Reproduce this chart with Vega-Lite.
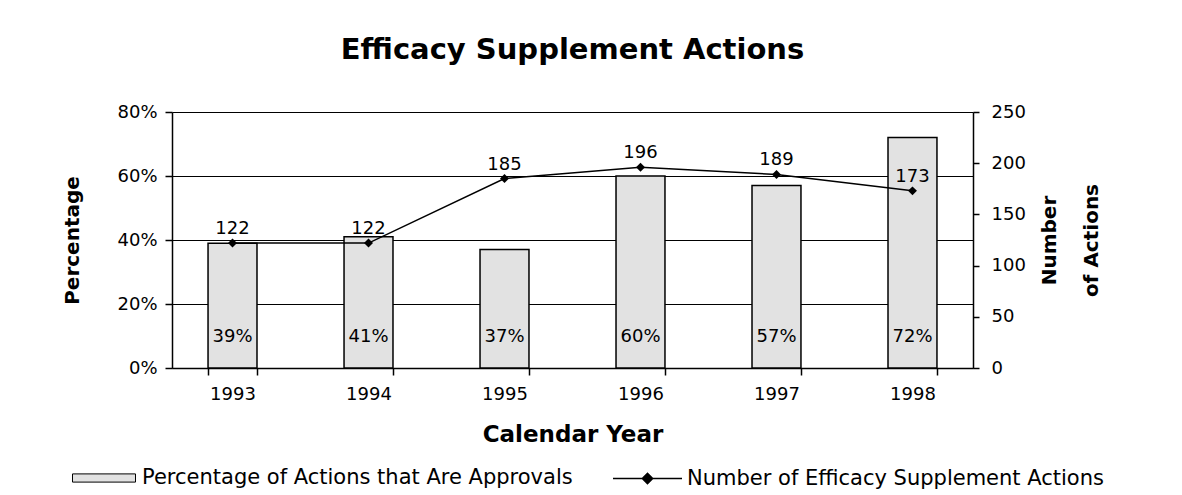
{
  "$schema": "https://vega.github.io/schema/vega-lite/v6.json",
  "width": 801,
  "height": 256,
  "autosize": {"type": "none"},
  "padding": {"left": 172, "top": 112, "right": 209, "bottom": 127},
  "background": "white",
  "config": {
    "view": {"stroke": null},
    "font": "DejaVu Sans",
    "axis": {
      "labelFont": "DejaVu Sans",
      "labelColor": "black",
      "titleFont": "DejaVu Sans",
      "titleColor": "black",
      "domainColor": "black",
      "tickColor": "black",
      "domainWidth": 1.5,
      "tickWidth": 1.5
    }
  },
  "title": {
    "text": "Efficacy Supplement Actions",
    "font": "DejaVu Sans",
    "fontSize": 29,
    "fontWeight": "bold",
    "color": "black",
    "anchor": "middle",
    "frame": "group",
    "offset": 38
  },
  "data": {
    "values": [
      {"year": "1993", "pct": 0.39, "count": 122},
      {"year": "1994", "pct": 0.41, "count": 122},
      {"year": "1995", "pct": 0.37, "count": 185},
      {"year": "1996", "pct": 0.60, "count": 196},
      {"year": "1997", "pct": 0.57, "count": 189},
      {"year": "1998", "pct": 0.72, "count": 173}
    ]
  },
  "layer": [
    {
      "layer": [
        {
          "mark": {"type": "bar", "stroke": "black", "strokeWidth": 1.5},
          "encoding": {
            "x": {
              "field": "year",
              "type": "nominal",
              "scale": {"paddingInner": 0.64, "paddingOuter": 0.265},
              "axis": {
                "title": "Calendar Year",
                "titleFontSize": 23,
                "titleFontWeight": "bold",
                "titlePadding": 20,
                "labelAngle": 0,
                "labelFontSize": 18,
                "labelPadding": 10,
                "tickBand": "extent",
                "tickSize": 7,
                "tickOffset": 0,
                "grid": false
              }
            },
            "y": {
              "field": "pct",
              "type": "quantitative",
              "scale": {"domain": [0, 0.8], "nice": false},
              "axis": {
                "orient": "left",
                "title": "Percentage",
                "titleFontSize": 20,
                "titleFontWeight": "bold",
                "titlePadding": 34,
                "format": ".0%",
                "values": [0, 0.2, 0.4, 0.6, 0.8],
                "labelFontSize": 18,
                "labelPadding": 8,
                "tickSize": 7,
                "grid": true,
                "gridColor": "black",
                "gridOpacity": 1,
                "gridWidth": 1.2
              }
            },
            "fill": {
              "datum": "Percentage of Actions that Are Approvals",
              "scale": {"range": ["#e2e2e2"]},
              "legend": {
                "orient": "none",
                "legendX": -100,
                "legendY": 334,
                "title": null,
                "symbolType": "M-1,-0.13H1V0.13H-1Z",
                "symbolSize": 3969,
                "symbolStrokeColor": "black",
                "symbolFillColor": "#e2e2e2",
                "symbolStrokeWidth": 1,
                "symbolOpacity": 1,
                "labelFont": "DejaVu Sans",
                "labelFontSize": 21,
                "labelColor": "black",
                "labelLimit": 700,
                "labelOffset": 6
              }
            }
          }
        },
        {
          "mark": {"type": "text", "fontSize": 18, "color": "black", "baseline": "middle"},
          "encoding": {
            "x": {"field": "year", "type": "nominal"},
            "y": {"datum": 0.097},
            "text": {"field": "pct", "type": "quantitative", "format": ".0%"}
          }
        }
      ]
    },
    {
      "layer": [
        {
          "mark": {"type": "line", "strokeWidth": 1.5},
          "encoding": {
            "x": {"field": "year", "type": "nominal"},
            "y": {
              "field": "count",
              "type": "quantitative",
              "scale": {"domain": [0, 250], "nice": false},
              "axis": {
                "orient": "right",
                "title": ["Number", "of Actions"],
                "titleFontSize": 20,
                "titleFontWeight": "bold",
                "titleAngle": 270,
                "titleLineHeight": 42,
                "titlePadding": -8,
                "values": [0, 50, 100, 150, 200, 250],
                "labelFontSize": 18,
                "labelPadding": 12,
                "tickSize": 6,
                "grid": false
              }
            },
            "stroke": {
              "datum": "Number of Efficacy Supplement Actions",
              "scale": {"range": ["black"]},
              "legend": {
                "orient": "none",
                "legendX": 440,
                "legendY": 331,
                "title": null,
                "symbolType": "M-1,0H1M-0.15,0L0,-0.15L0.15,0L0,0.15Z",
                "symbolSize": 4761,
                "symbolStrokeColor": "black",
                "symbolFillColor": "black",
                "symbolStrokeWidth": 1.5,
                "labelFont": "DejaVu Sans",
                "labelFontSize": 21,
                "labelColor": "black",
                "labelLimit": 700,
                "labelOffset": 4
              }
            }
          }
        },
        {
          "mark": {"type": "point", "shape": "diamond", "filled": true, "color": "black", "size": 80, "opacity": 1},
          "encoding": {
            "x": {"field": "year", "type": "nominal"},
            "y": {"field": "count", "type": "quantitative"}
          }
        },
        {
          "mark": {"type": "text", "fontSize": 18, "color": "black", "dy": -14, "baseline": "middle"},
          "encoding": {
            "x": {"field": "year", "type": "nominal"},
            "y": {"field": "count", "type": "quantitative"},
            "text": {"field": "count", "type": "quantitative"}
          }
        }
      ]
    }
  ],
  "resolve": {"scale": {"y": "independent"}}
}
